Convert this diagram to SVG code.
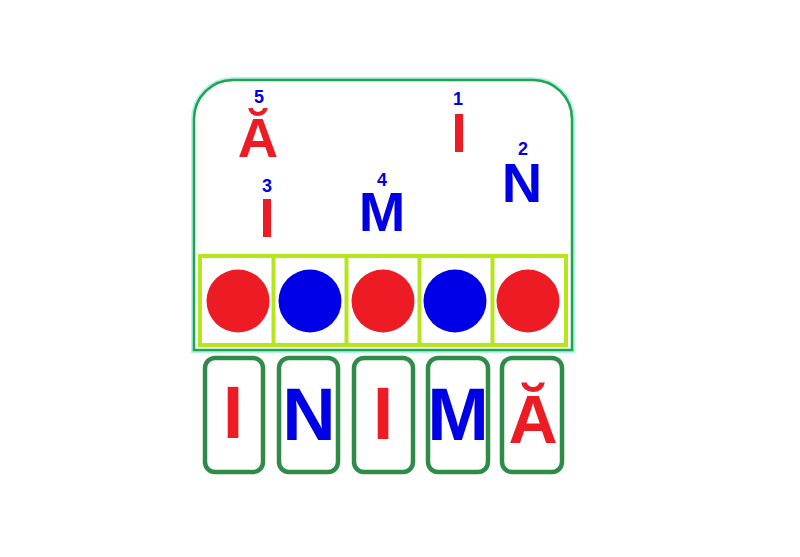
<svg xmlns="http://www.w3.org/2000/svg" width="800" height="557" viewBox="0 0 800 557">
<style>
.glow{fill:none;stroke:#b4f3e0;stroke-width:6}
.frame{fill:#fff;stroke:#1ea553;stroke-width:2.5}
.cells{fill:none;stroke:#b5e61d;stroke-width:4}
.card{fill:#fff;stroke:#2f8c48;stroke-width:4.5}
.r{fill:#ed1c24}
.b{fill:#0000e6}
.L{font-family:"Liberation Sans",Arial,sans-serif;font-weight:bold;text-anchor:middle}
.big{font-size:56px}
.card-t{font-size:74px}
.num{font-size:18px}
</style>
<rect width="800" height="557" fill="#fff"/>
<g id="frame">
<path class="glow" d="M194,350 V119 A39,39 0 0 1 233,80 H533 A39,39 0 0 1 572,119 V350 Z"/>
<path class="frame" d="M194,350 V119 A39,39 0 0 1 233,80 H533 A39,39 0 0 1 572,119 V350 Z"/>
</g>
<g id="letters">
<text class="L big r" x="258" y="157">Ă</text>
<text class="L num b" x="259" y="103">5</text>
<text class="L big r" x="459" y="152">I</text>
<text class="L num b" x="458" y="105">1</text>
<text class="L big b" x="522" y="202">N</text>
<text class="L num b" x="523" y="155">2</text>
<text class="L big r" x="267" y="237">I</text>
<text class="L num b" x="267" y="192">3</text>
<text class="L big b" x="382" y="231">M</text>
<text class="L num b" x="382" y="186">4</text>
</g>
<g id="cells">
<rect class="cells" x="200" y="256" width="366" height="89"/>
<line class="cells" x1="273.5" y1="256" x2="273.5" y2="345"/>
<line class="cells" x1="346.5" y1="256" x2="346.5" y2="345"/>
<line class="cells" x1="419.5" y1="256" x2="419.5" y2="345"/>
<line class="cells" x1="492.5" y1="256" x2="492.5" y2="345"/>
<circle class="r" cx="238" cy="301" r="31.5"/>
<circle class="b" cx="310" cy="301" r="31.5"/>
<circle class="r" cx="383" cy="301" r="31.5"/>
<circle class="b" cx="455" cy="301" r="31.5"/>
<circle class="r" cx="528" cy="301" r="31.5"/>
</g>
<g id="cards">
<rect class="card" x="205" y="358" width="58" height="114" rx="10"/>
<rect class="card" x="279" y="358" width="59" height="114" rx="10"/>
<rect class="card" x="354" y="358" width="59" height="114" rx="10"/>
<rect class="card" x="428" y="358" width="60" height="114" rx="10"/>
<rect class="card" x="502" y="358" width="60" height="114" rx="10"/>
<text class="L card-t r" x="233" y="438">I</text>
<text class="L card-t b" x="309" y="440">N</text>
<text class="L card-t r" x="383" y="439">I</text>
<text class="L card-t b" x="458" y="440">M</text>
<text class="L r" style="font-size:68px" x="533" y="443">Ă</text>
</g>
</svg>
